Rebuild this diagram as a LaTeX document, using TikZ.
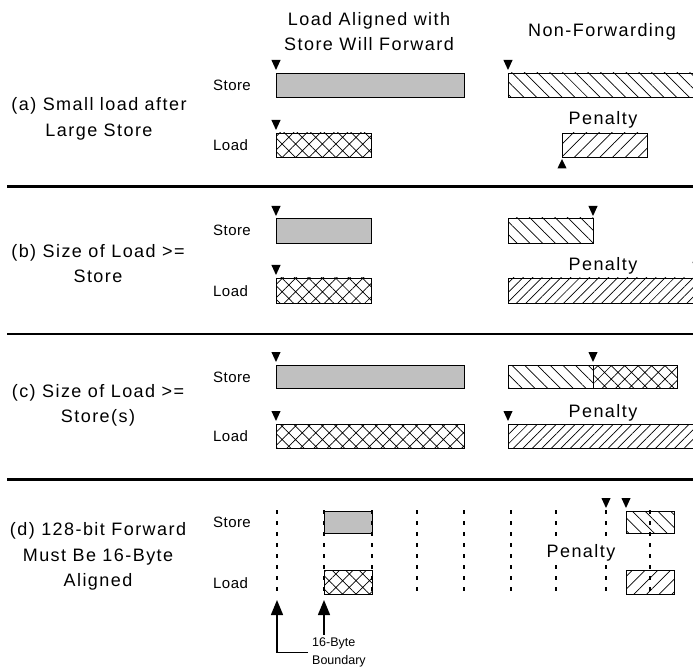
\documentclass[tikz,border=0pt]{standalone}
\usepackage{fontspec}
\setmainfont{Liberation Sans}
\newfontfamily\bigfont{Liberation Sans}[LetterSpace=8]
\newfontfamily\smallfont{Liberation Sans}[LetterSpace=3]
\usetikzlibrary{patterns.meta,arrows.meta}
\definecolor{barGray}{RGB}{192,192,192}
\begin{document}
\begin{tikzpicture}[x=1pt,y=1pt,
  bigtext/.style={font=\bigfont\fontsize{18}{25.2}\selectfont, inner sep=0pt},
  rowlabel/.style={font=\smallfont\fontsize{15}{18}\selectfont, inner sep=0pt, anchor=base west},
  bndlabel/.style={font=\fontsize{12.5}{18.3}\selectfont, inner sep=0pt, align=left, anchor=north west},
  bar/.style={draw=black, line width=0.9pt},
  solidbar/.style={bar, fill=barGray},
  crossbar/.style={bar, pattern={Hatch[angle=45,distance=9.5pt,line width=0.7pt]}},
  backbar/.style={bar, pattern={Lines[angle=-45,distance=9pt,line width=0.7pt]}},
  penbar/.style={bar, pattern={Lines[angle=45,distance=9pt,line width=0.7pt]}},
  densepen/.style={bar, pattern={Lines[angle=45,distance=6.7pt,line width=0.7pt]}},
  sepline/.style={line width=2.6pt},
  boundline/.style={line width=1.8pt, dash pattern=on 3.5pt off 7.5pt},
  bndarrow/.style={line width=1.4pt, -{Triangle[width=12pt,length=15pt]}},
  downtri/.pic={\fill (0,0) -- (-4.6,10) -- (4.6,10) -- cycle;},
  uptri/.pic={\fill (0,0) -- (-4.6,-9.5) -- (4.6,-9.5) -- cycle;}
]
\useasboundingbox[fill=white] (0,0) rectangle (693,-668);
\begin{scope}
\clip (0,0) rectangle (693,-668);

% column titles
\node[bigtext, align=center, anchor=north] (title) at (369,-11.9) {Load Aligned with\\Store Will Forward};
\node[bigtext, anchor=base] (nonfwd) at (602,-37) {Non-Forwarding};

% separators
\coordinate (s1l) at (7,-186.8);  \coordinate (s1r) at (700,-186.8);
\coordinate (s2l) at (7,-334);    \coordinate (s2r) at (700,-334);
\coordinate (s3l) at (7,-479.3);  \coordinate (s3r) at (700,-479.3);
\draw[sepline] (s1l) -- (s1r);
\draw[sepline] (s2l) -- (s2r);
\draw[sepline] (s3l) -- (s3r);

% case labels
\node[bigtext, align=center, anchor=north] (casea) at (99,-97.6) {(a) Small load after\\Large Store};
\node[bigtext, align=center, anchor=north] (caseb) at (98,-244.2) {(b) Size of Load >=\\Store};
\node[bigtext, align=center, anchor=north] (casec) at (98,-384.2) {(c) Size of Load >=\\Store(s)};
\node[bigtext, align=center, anchor=north] (cased) at (98,-522.6) {(d) 128-bit Forward\\Must Be 16-Byte\\Aligned};

% row labels
\node[rowlabel] (sa) at (213,-90.7) {Store};
\node[rowlabel] (la) at (213,-150.7) {Load};
\node[rowlabel] (sb) at (213,-236) {Store};
\node[rowlabel] (lb) at (213,-296) {Load};
\node[rowlabel] (sc) at (213,-382) {Store};
\node[rowlabel] (lc) at (213,-441.5) {Load};
\node[rowlabel] (sd) at (213,-527.7) {Store};
\node[rowlabel] (ld) at (213,-588) {Load};

% (a)
\draw[solidbar] (276,-73) rectangle (464,-97);
\draw[crossbar] (276,-133) rectangle (371,-157);
\draw[backbar]  (508,-73) rectangle (705,-97);
\draw[penbar]   (562,-133) rectangle (647,-157);
\pic at (276,-70) {downtri};
\pic at (276,-130) {downtri};
\pic at (508,-70) {downtri};
\pic at (562,-159) {uptri};
\node[bigtext, anchor=base] (pena) at (603,-125) {Penalty};

% (b)
\draw[solidbar] (276,-218) rectangle (371,-243);
\draw[crossbar] (276,-278) rectangle (371,-303);
\draw[backbar]  (508,-218) rectangle (593,-243);
\draw[densepen] (508,-278) rectangle (705,-303);
\pic at (276,-216) {downtri};
\pic at (276,-275) {downtri};
\pic at (593,-216) {downtri};
\pic at (697,-272) {downtri};
\node[bigtext, anchor=base] (penb) at (603,-271) {Penalty};

% (c)
\draw[solidbar] (276,-365) rectangle (464,-388);
\draw[crossbar] (276,-424) rectangle (464,-448);
\draw[backbar]  (508,-365) rectangle (593,-388);
\draw[crossbar] (593,-365) rectangle (677,-388);
\draw[densepen] (508,-424) rectangle (705,-448);
\pic at (276,-362) {downtri};
\pic at (276,-421) {downtri};
\pic at (593,-362) {downtri};
\pic at (508,-421) {downtri};
\node[bigtext, anchor=base] (penc) at (603,-417) {Penalty};

% (d)
\draw[solidbar] (324,-511) rectangle (372,-533);
\draw[crossbar] (324,-570) rectangle (372,-594);
\draw[backbar]  (626,-511) rectangle (674,-533);
\draw[penbar]   (626,-570) rectangle (674,-594);
\foreach \bx in {277,324,372,417,464,511,556,606,650}
  \draw[boundline] (\bx,-510) -- (\bx,-596);
\pic at (606,-508) {downtri};
\pic at (626,-508) {downtri};
\node[bigtext, anchor=base, fill=white, inner sep=2.5pt] (pend) at (581,-557) {Penalty};

% 16-byte boundary
\node[bndlabel] (bnd) at (312,-637.6) {16-Byte\\Boundary};
\coordinate (b1) at (277,-600);
\coordinate (b2) at (324,-600);
\draw[bndarrow] ([xshift=-4pt]bnd.west) -| (b1);
\draw[bndarrow] ([yshift=2.5pt]bnd.north west -| b2) -- (b2);
\end{scope}
\end{tikzpicture}
\end{document}
